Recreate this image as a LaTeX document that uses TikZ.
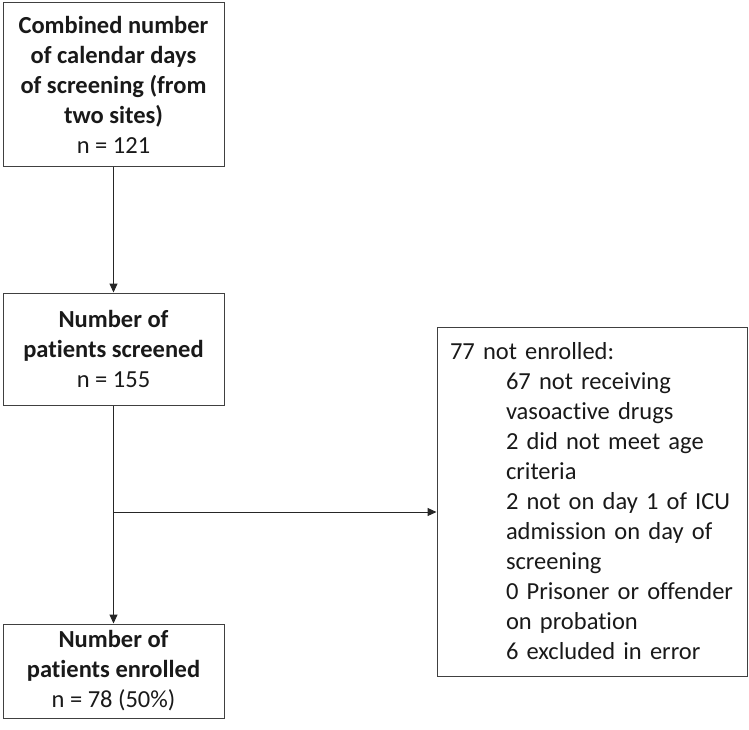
\documentclass[tikz,border=0pt]{standalone}
\usepackage{fontspec}
\setmainfont{Carlito}[Ligatures={NoCommon,NoRare,NoHistoric,NoContextual}]
\usetikzlibrary{arrows.meta}
\newcommand\myind[1]{\hspace*{56pt}\mbox{#1}}
\begin{document}
\begin{tikzpicture}[x=1pt,y=-1pt,
  box/.style={draw=black!75, line width=1pt, inner sep=0pt, font=\fontsize{24.5}{30}\selectfont, align=center, text=black!90},
  conn/.style={line width=1pt, draw=black!85, -{Triangle[length=9pt,width=8pt]}}]
\useasboundingbox (0,0) rectangle (749,730);
\node[box, minimum width=221pt, minimum height=164pt] (a) at (113.5,85)
  {\textbf{Combined number}\\\textbf{of calendar days}\\\textbf{of screening (from}\\\textbf{two sites)}\\n = 121};
\node[box, minimum width=221pt, minimum height=112pt] (b) at (113.5,349)
  {\textbf{Number of}\\\textbf{patients screened}\\n = 155};
\node[box, minimum width=221pt, minimum height=94pt] (c) at (113.5,671)
  {\textbf{Number of}\\\textbf{patients enrolled}\\n = 78 (50\%)};
\node[box, minimum width=310pt, minimum height=349pt, text width=284pt, align=left] (d) at (592,501.5)
  {\mbox{77 not enrolled:}\\
   \myind{67 not receiving}\\
   \myind{vasoactive drugs}\\
   \myind{2 did not meet age}\\
   \myind{criteria}\\
   \myind{2 not on day 1 of ICU}\\
   \myind{admission on day of}\\
   \myind{screening}\\
   \myind{0 Prisoner or offender}\\
   \myind{on probation}\\
   \myind{6 excluded in error}};
\coordinate (j) at (b.south |- 0,512);
\draw[conn] (a.south) -- (b.north);
\draw[conn] (b.south) -- (c.north);
\draw[conn] (j) -- (j -| d.west);
\end{tikzpicture}
\end{document}
